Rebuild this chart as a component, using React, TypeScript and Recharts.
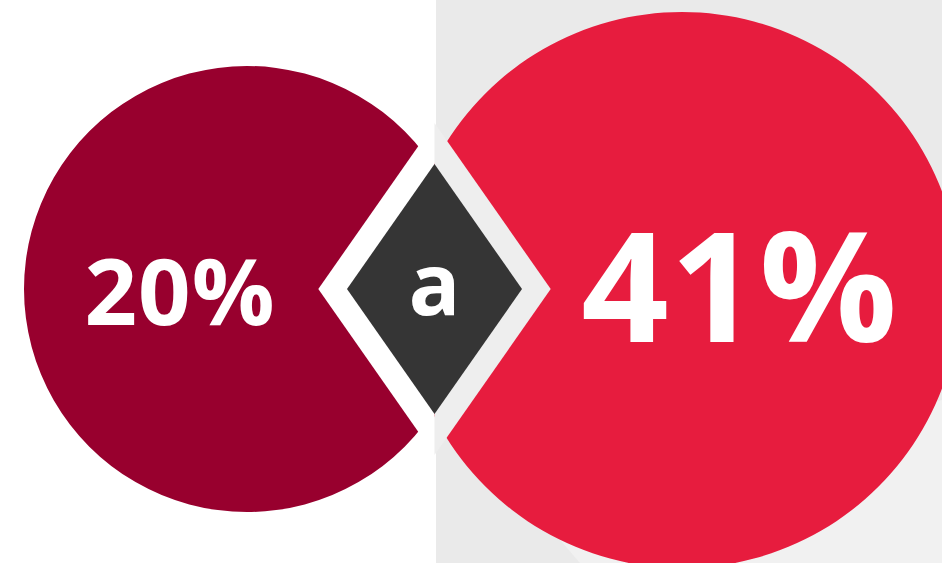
import { PieChart, Pie } from "recharts";

// values shown in the two circles and the connector glyph
const shareNames = ["previous", "current"];
const shareValues = [20, 41];
const shareLabels = ["20%", "41%"];
const connectorLabel = "a";

const leftData = [{ name: shareNames[0], value: shareValues[0], label: shareLabels[0] }];
const rightData = [{ name: shareNames[1], value: shareValues[1], label: shareLabels[1] }];
const diamondData = [{ name: "connector", value: 1, label: connectorLabel }];

const W = 942;
const H = 563;
const SPLIT_X = 436;
const FONT = "'Open Sans', 'Noto Sans', sans-serif";

const DIAMOND_RATIO = 0.7;

function makeLabel(dx: number, dy: number, size: number, spacing = 0) {
  return (props: any) => {
    const { cx, cy, payload } = props;
    return (
      <text
        x={cx + dx}
        y={cy + dy}
        textAnchor="middle"
        fill="#ffffff"
        fontFamily={FONT}
        fontWeight={700}
        fontSize={size}
        letterSpacing={spacing}
      >
        {payload?.label ?? props.label}
      </text>
    );
  };
}

const innerDiamond = (props: any) => {
  const { cx, cy, outerRadius } = props;
  const hh = outerRadius;
  const hw = outerRadius * DIAMOND_RATIO;
  return (
    <polygon
      points={`${cx},${cy - hh} ${cx + hw},${cy} ${cx},${cy + hh} ${cx - hw},${cy}`}
      fill="#353535"
    />
  );
};

const outerDiamond = (props: any) => {
  const { cx, cy, outerRadius } = props;
  const hh = outerRadius;
  const hw = outerRadius * DIAMOND_RATIO;
  return (
    <g>
      <polygon
        points={`${cx},${cy - hh} ${cx},${cy + hh} ${cx - hw},${cy}`}
        fill="#ffffff"
      />
      <polygon
        points={`${cx},${cy - hh} ${cx + hw},${cy} ${cx},${cy + hh}`}
        fill="#eeeeee"
      />
    </g>
  );
};

export default function App() {
  return (
    <div
      style={{
        position: "absolute",
        left: 0,
        top: 0,
        width: W,
        height: H,
        overflow: "hidden",
        background: `linear-gradient(to right, #ffffff 0px, #ffffff ${SPLIT_X}px, #eaeaea ${SPLIT_X}px, #eaeaea 100%)`,
      }}
    >
      <div
        style={{
          position: "absolute",
          left: 0,
          top: 0,
          width: W,
          height: H,
          background: "#f1f1f1",
          clipPath: "polygon(543px 520px, 942px 400px, 942px 563px, 580px 563px)",
        }}
      />
      <div style={{ position: "absolute", left: 0, top: 0 }}>
        <PieChart width={W} height={H} margin={{ top: 0, right: 0, bottom: 0, left: 0 }}>
          <Pie
            data={leftData}
            dataKey="value"
            cx={247}
            cy={289}
            outerRadius={223}
            startAngle={90}
            endAngle={-270}
            fill="#98002e"
            stroke="none"
            labelLine={false}
            label={makeLabel(-67, 36, 92, 1)}
            isAnimationActive={false}
          />
          <Pie
            data={rightData}
            dataKey="value"
            cx={682}
            cy={290}
            outerRadius={278}
            startAngle={90}
            endAngle={-270}
            fill="#e71c3e"
            stroke="none"
            labelLine={false}
            label={makeLabel(58, 52, 153, 1.5)}
            isAnimationActive={false}
          />
          <Pie
            data={diamondData}
            dataKey="value"
            cx={434.5}
            cy={289}
            outerRadius={166}
            fill="#ffffff"
            stroke="none"
            shape={outerDiamond}
            inactiveShape={outerDiamond}
            activeShape={outerDiamond}
            isAnimationActive={false}
          />
          <Pie
            data={diamondData}
            dataKey="value"
            cx={434.5}
            cy={289}
            outerRadius={125}
            fill="#353535"
            stroke="none"
            shape={innerDiamond}
            inactiveShape={innerDiamond}
            activeShape={innerDiamond}
            labelLine={false}
            label={makeLabel(0, 26, 86)}
            isAnimationActive={false}
          />
        </PieChart>
      </div>
    </div>
  );
}
